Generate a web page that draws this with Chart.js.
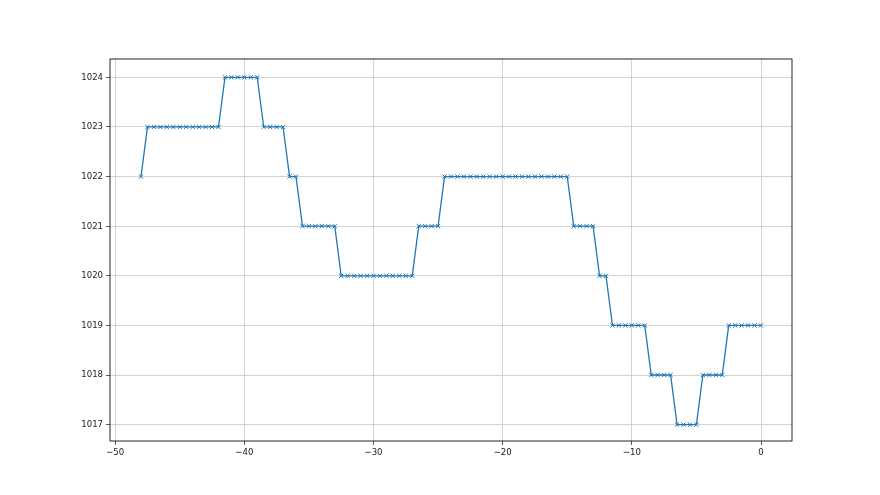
<!DOCTYPE html>
<html>
<head>
<meta charset="utf-8">
<script src="https://cdn.jsdelivr.net/npm/chart.js@4/dist/chart.umd.min.js"></script>
<style>
html,body{margin:0;padding:0;background:#fff;}
#wrap{width:880px;height:495px;position:relative;}
</style>
</head>
<body>
<div id="wrap"><canvas id="c" width="880" height="495"></canvas></div>
<script>
const hours = [
  -48, -47.5, -47, -46.5, -46, -45.5, -45, -44.5, -44, -43.5,
  -43, -42.5, -42, -41.5, -41, -40.5, -40, -39.5, -39, -38.5,
  -38, -37.5, -37, -36.5, -36, -35.5, -35, -34.5, -34, -33.5,
  -33, -32.5, -32, -31.5, -31, -30.5, -30, -29.5, -29, -28.5,
  -28, -27.5, -27, -26.5, -26, -25.5, -25, -24.5, -24, -23.5,
  -23, -22.5, -22, -21.5, -21, -20.5, -20, -19.5, -19, -18.5,
  -18, -17.5, -17, -16.5, -16, -15.5, -15, -14.5, -14, -13.5,
  -13, -12.5, -12, -11.5, -11, -10.5, -10, -9.5, -9, -8.5,
  -8, -7.5, -7, -6.5, -6, -5.5, -5, -4.5, -4, -3.5,
  -3, -2.5, -2, -1.5, -1, -0.5, 0
];
const pressure = [
  1022,
  1023, 1023, 1023, 1023, 1023, 1023, 1023, 1023, 1023, 1023, 1023, 1023,
  1024, 1024, 1024, 1024, 1024, 1024,
  1023, 1023, 1023, 1023,
  1022, 1022,
  1021, 1021, 1021, 1021, 1021, 1021,
  1020, 1020, 1020, 1020, 1020, 1020, 1020, 1020, 1020, 1020, 1020, 1020,
  1021, 1021, 1021, 1021,
  1022, 1022, 1022, 1022, 1022, 1022, 1022, 1022, 1022, 1022,
  1022, 1022, 1022, 1022, 1022, 1022, 1022, 1022, 1022, 1022,
  1021, 1021, 1021, 1021,
  1020, 1020,
  1019, 1019, 1019, 1019, 1019, 1019,
  1018, 1018, 1018, 1018,
  1017, 1017, 1017, 1017,
  1018, 1018, 1018, 1018,
  1019, 1019, 1019, 1019, 1019, 1019
];
const xTicks = [-50, -40, -30, -20, -10, 0];
const yTicks = [1017, 1018, 1019, 1020, 1021, 1022, 1023, 1024];

const points = hours.map((h, i) => ({x: h, y: pressure[i]}));

const framePlugin = {
  id: 'frame',
  afterDraw(chart) {
    const a = chart.chartArea, ctx = chart.ctx;
    ctx.save();
    ctx.strokeStyle = '#111';
    ctx.lineWidth = 0.9;
    ctx.strokeRect(a.left, a.top, a.right - a.left, a.bottom - a.top);
    ctx.restore();
  }
};

const font = {family: '"Liberation Sans Narrow", "DejaVu Sans Condensed", "DejaVu Sans"', size: 9.5};

new Chart(document.getElementById('c'), {
  type: 'line',
  data: {
    datasets: [{
      data: points,
      borderColor: '#1f77b4',
      borderWidth: 1.3,
      pointStyle: 'crossRot',
      pointRadius: 3,
      pointBorderColor: '#1f77b4',
      pointBorderWidth: 1,
      pointHoverRadius: 3,
      fill: false,
      tension: 0
    }]
  },
  options: {
    responsive: false,
    animation: false,
    events: [],
    layout: {padding: {left: 0, top: 59, right: 88, bottom: 0}},
    plugins: {legend: {display: false}, tooltip: {enabled: false}},
    scales: {
      x: {
        type: 'linear',
        min: -50.4,
        max: 2.4,
        afterBuildTicks(s) { s.ticks = xTicks.map(v => ({value: v})); },
        afterFit(s) { s.height = 54; },
        grid: {color: '#c8c8c8', lineWidth: 0.8, tickColor: '#333', tickLength: 4, drawTicks: true},
        border: {display: false},
        ticks: {font: font, color: '#222', padding: 2, maxRotation: 0,
          callback: v => (v < 0 ? '\u2212' + Math.abs(v) : String(v))}
      },
      y: {
        type: 'linear',
        min: 1016.67,
        max: 1024.37,
        afterBuildTicks(s) { s.ticks = yTicks.map(v => ({value: v})); },
        afterFit(s) { s.width = 110; },
        grid: {color: '#c8c8c8', lineWidth: 0.8, tickColor: '#333', tickLength: 4, drawTicks: true},
        border: {display: false},
        ticks: {font: font, color: '#222', padding: 3, callback: v => String(v)}
      }
    }
  },
  plugins: [framePlugin]
});
</script>
</body>
</html>
